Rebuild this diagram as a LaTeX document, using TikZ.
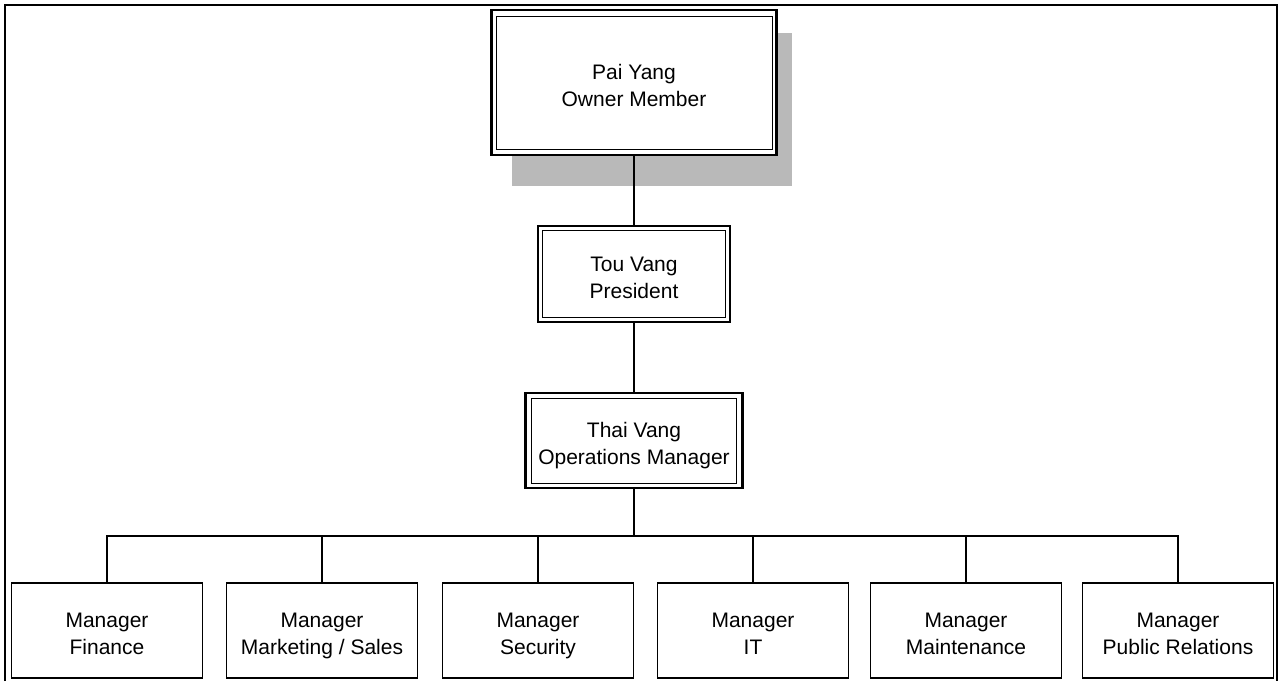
\documentclass[tikz,border=0pt]{standalone}
\usepackage{fontspec}
\setmainfont{Liberation Sans}
\newcommand\twolines[2]{\rule{0pt}{27pt}#1\\#2\rule[-6pt]{0pt}{6pt}}
\begin{document}
\begin{tikzpicture}[x=1pt,y=-1pt,
  txt/.style={align=center, font=\fontsize{21}{27}\selectfont},
  box/.style={txt, draw, line width=1.6pt, minimum width=191pt, minimum height=95pt, inner sep=0pt},
  inbox/.style={txt, draw, line width=1pt, inner sep=0pt},
  outbox/.style={draw, line width=2.2pt, inner sep=0pt},
  link/.style={line width=1.5pt},
  frame/.style={line width=2pt}]
\useasboundingbox (0,0) rectangle (1280,681);
% page frame
\draw[frame] (5,681) -- (5,5) -- (1277,5) -- (1277,681);
% shadow of top box
\fill[gray!55] (778,33) rectangle (792,186);
\fill[gray!55] (512,156) rectangle (792,186);
% top box
\node[outbox, minimum width=285pt, minimum height=145pt] (paiO) at (634,82.5) {};
\node[inbox, minimum width=276pt, minimum height=133pt] (pai) at (634,82.5) {\twolines{Pai Yang}{Owner Member}};
% president
\node[outbox, minimum width=192pt, minimum height=96pt] (touO) at (634,274) {};
\node[inbox, minimum width=183pt, minimum height=87pt] (tou) at (634,274) {\twolines{Tou Vang}{President}};
% operations manager
\node[outbox, line width=2.6pt, minimum width=217pt, minimum height=95pt] (thaiO) at (634,440.5) {};
\node[inbox, minimum width=205pt, minimum height=85pt] (thai) at (634,440.5) {\twolines{Thai Vang}{Operations Manager}};
% managers
\node[box] (fin) at (107,630.5) {\twolines{Manager}{Finance}};
\node[box] (mkt) at (322,630.5) {\twolines{Manager}{Marketing / Sales}};
\node[box] (sec) at (538,630.5) {\twolines{Manager}{Security}};
\node[box] (it)  at (753,630.5) {\twolines{Manager}{IT}};
\node[box] (mnt) at (966,630.5) {\twolines{Manager}{Maintenance}};
\node[box] (pr)  at (1178,630.5) {\twolines{Manager}{Public Relations}};
\coordinate (bus) at (634,536);
% connectors
\draw[link] (paiO) -- (touO);
\draw[link] (touO) -- (thaiO);
\draw[link] (thaiO) -- (bus);
\draw[link] (fin.north) |- (pr.north |- bus) -- (pr.north);
\draw[link] (mkt.north) -- (mkt.north |- bus);
\draw[link] (sec.north) -- (sec.north |- bus);
\draw[link] (it.north) -- (it.north |- bus);
\draw[link] (mnt.north) -- (mnt.north |- bus);
\end{tikzpicture}
\end{document}
